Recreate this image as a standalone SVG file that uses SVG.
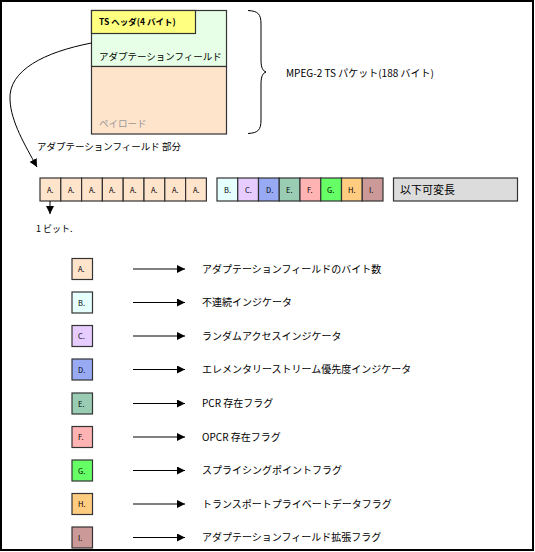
<svg xmlns="http://www.w3.org/2000/svg" width="535" height="552" viewBox="0 0 535 552">
<style>
text{font-family:"Noto Sans CJK JP","DejaVu Sans",sans-serif;fill:#000}
.t{font-size:10px}
.s{font-size:7.5px}
.b{stroke:#333;stroke-width:1.2}
.ln{stroke:#000;stroke-width:1;fill:none}
</style>
<defs>
<marker id="ah" viewBox="0 0 10 10" refX="10" refY="5" markerWidth="8" markerHeight="8" markerUnits="userSpaceOnUse" orient="auto"><path d="M0,0 L10,5 L0,10 z" fill="#000"/></marker>
</defs>
<rect x="1" y="1" width="532" height="549" fill="#fff" stroke="#000" stroke-width="2"/>
<g id="packet">
<rect x="91.5" y="10.5" width="135" height="56" fill="#e6ffe6" class="b"/>
<rect x="91.5" y="66.5" width="135" height="67.5" fill="#ffe4cc" class="b"/>
<rect x="91.5" y="10.5" width="104" height="23" fill="#ffff80" class="b"/>
<text x="99" y="25" style="font-size:8.5px;font-weight:bold">TS ヘッダ(4 バイト)</text>
<text x="99" y="60" class="t" style="font-size:9.5px">アダプテーションフィールド</text>
<text x="99" y="127" class="t" style="font-size:9.5px;fill:#999">ペイロード</text>
</g>
<g id="brace">
<path class="ln" d="M248,10.5 C258,11 261,14 261,24 L261,60 C261,68 263,71 266,72 C263,73 261,76 261,84 L261,120 C261,130 258,133 248,133.5"/>
<text x="286" y="77" class="t">MPEG-2 TS パケット(188 バイト)</text>
</g>
<g id="af-label"><text x="37" y="150" class="t" style="font-size:9.5px">アダプテーションフィールド 部分</text></g>
<g id="row-a">
<rect x="40" y="178" width="20.8" height="23" fill="#ffe4cc" class="b"/>
<rect x="60.8" y="178" width="20.8" height="23" fill="#ffe4cc" class="b"/>
<rect x="81.6" y="178" width="20.8" height="23" fill="#ffe4cc" class="b"/>
<rect x="102.4" y="178" width="20.8" height="23" fill="#ffe4cc" class="b"/>
<rect x="123.2" y="178" width="20.8" height="23" fill="#ffe4cc" class="b"/>
<rect x="144" y="178" width="20.8" height="23" fill="#ffe4cc" class="b"/>
<rect x="164.8" y="178" width="20.8" height="23" fill="#ffe4cc" class="b"/>
<rect x="185.6" y="178" width="20.8" height="23" fill="#ffe4cc" class="b"/>
<text x="47" y="193" class="s">A.</text><text x="68" y="193" class="s">A.</text><text x="89" y="193" class="s">A.</text><text x="109" y="193" class="s">A.</text><text x="130" y="193" class="s">A.</text><text x="151" y="193" class="s">A.</text><text x="172" y="193" class="s">A.</text><text x="193" y="193" class="s">A.</text>
</g>
<g id="row-b">
<rect x="217" y="178" width="20.75" height="23" fill="#e6ffff" class="b"/>
<rect x="237.75" y="178" width="20.75" height="23" fill="#e6ccff" class="b"/>
<rect x="258.5" y="178" width="20.75" height="23" fill="#99aaf5" class="b"/>
<rect x="279.25" y="178" width="20.75" height="23" fill="#99ccb3" class="b"/>
<rect x="300" y="178" width="20.75" height="23" fill="#ffb3b3" class="b"/>
<rect x="320.75" y="178" width="20.75" height="23" fill="#66ff66" class="b"/>
<rect x="341.5" y="178" width="20.75" height="23" fill="#ffcc80" class="b"/>
<rect x="362.25" y="178" width="20.75" height="23" fill="#cc9999" class="b"/>
<text x="224" y="193" class="s">B.</text><text x="245" y="193" class="s">C.</text><text x="266" y="193" class="s">D.</text><text x="286" y="193" class="s">E.</text><text x="307" y="193" class="s">F.</text><text x="327" y="193" class="s">G.</text><text x="348" y="193" class="s">H.</text><text x="369" y="193" class="s">I.</text>
</g>
<g id="variable">
<rect x="393.5" y="178" width="124" height="23" fill="#dcdcdc" class="b"/>
<text x="400" y="194" class="t" style="font-size:11px">以下可変長</text>
</g>
<g id="bit-label"><text x="36" y="232" class="t" style="font-size:9px">1 ビット.</text></g>
<g id="legend">
<rect x="72" y="258.5" width="20.5" height="21" fill="#ffe4cc" class="b"/><text x="78" y="272" class="s">A.</text>
<rect x="72" y="292" width="20.5" height="21" fill="#e6ffff" class="b"/><text x="78" y="305.5" class="s">B.</text>
<rect x="72" y="325.5" width="20.5" height="21" fill="#e6ccff" class="b"/><text x="78" y="339" class="s">C.</text>
<rect x="72" y="359" width="20.5" height="21" fill="#99aaf5" class="b"/><text x="78" y="372.5" class="s">D.</text>
<rect x="72" y="393" width="20.5" height="21" fill="#99ccb3" class="b"/><text x="78" y="406.5" class="s">E.</text>
<rect x="72" y="426.5" width="20.5" height="21" fill="#ffb3b3" class="b"/><text x="78" y="440" class="s">F.</text>
<rect x="72" y="460" width="20.5" height="21" fill="#66ff66" class="b"/><text x="78" y="473.5" class="s">G.</text>
<rect x="72" y="493.5" width="20.5" height="21" fill="#ffcc80" class="b"/><text x="78" y="507" class="s">H.</text>
<rect x="72" y="527" width="20.5" height="21" fill="#cc9999" class="b"/><text x="78" y="540.5" class="s">I.</text>
<text x="202" y="272.5" class="t">アダプテーションフィールドのバイト数</text>
<text x="202" y="306" class="t">不連続インジケータ</text>
<text x="202" y="339.5" class="t">ランダムアクセスインジケータ</text>
<text x="202" y="373" class="t">エレメンタリーストリーム優先度インジケータ</text>
<text x="202" y="407" class="t">PCR 存在フラグ</text>
<text x="202" y="440.5" class="t">OPCR 存在フラグ</text>
<text x="202" y="474" class="t">スプライシングポイントフラグ</text>
<text x="202" y="507.5" class="t">トランスポートプライベートデータフラグ</text>
<text x="202" y="541" class="t">アダプテーションフィールド拡張フラグ</text>
</g>
<g id="connectors">
<path class="ln" d="M91.5,43 C45,52 8,70 10,100 C11,122 25,145 37,167" marker-end="url(#ah)"/>
<line class="ln" x1="50" y1="201" x2="50" y2="214" marker-end="url(#ah)"/>
<line class="ln" x1="133" y1="269" x2="185" y2="269" marker-end="url(#ah)"/>
<line class="ln" x1="133" y1="302.5" x2="185" y2="302.5" marker-end="url(#ah)"/>
<line class="ln" x1="133" y1="336" x2="185" y2="336" marker-end="url(#ah)"/>
<line class="ln" x1="133" y1="369.5" x2="185" y2="369.5" marker-end="url(#ah)"/>
<line class="ln" x1="133" y1="403.5" x2="185" y2="403.5" marker-end="url(#ah)"/>
<line class="ln" x1="133" y1="437" x2="185" y2="437" marker-end="url(#ah)"/>
<line class="ln" x1="133" y1="470.5" x2="185" y2="470.5" marker-end="url(#ah)"/>
<line class="ln" x1="133" y1="504" x2="185" y2="504" marker-end="url(#ah)"/>
<line class="ln" x1="133" y1="537.5" x2="185" y2="537.5" marker-end="url(#ah)"/>
</g>
</svg>
